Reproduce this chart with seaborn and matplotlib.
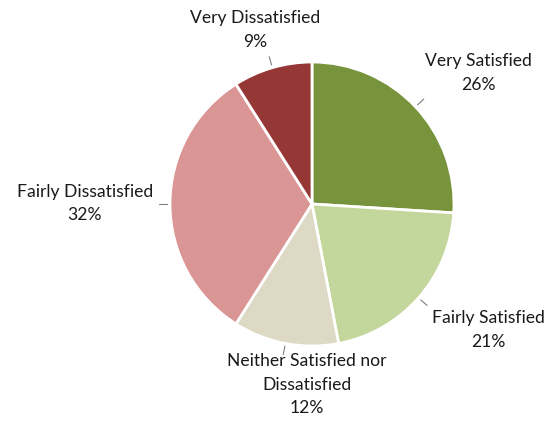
import numpy as np
import matplotlib
matplotlib.use('Agg')
import matplotlib.pyplot as plt
import seaborn as sns

# Survey satisfaction shares (%), clockwise from 12 o'clock
categories = ['Very Satisfied', 'Fairly Satisfied', 'Neither Satisfied nor\nDissatisfied',
              'Fairly Dissatisfied', 'Very Dissatisfied']
shares = [26, 21, 12, 32, 9]
colors = ['#77933C', '#C3D69B', '#DDD9C4', '#D99694', '#953735']

# where each label sits, in pie radii from the centre (hand placed, like Excel)
label_pos = [(1.17, 0.93), (1.24, -0.88), (-0.035, -1.265), (-1.60, 0.01), (-0.40, 1.23)]


def main():
    sns.set_theme(style='white')
    plt.rcParams['font.family'] = ['Lato', 'DejaVu Sans']

    fig = plt.figure(figsize=(5.52, 4.27), dpi=100)
    ax = fig.add_axes([0, 0, 1, 1])

    wedges, _ = ax.pie(shares, colors=colors, startangle=90, counterclock=False,
                       radius=1.0, wedgeprops=dict(edgecolor='white', linewidth=2))

    for w, cat, val, (lx, ly) in zip(wedges, categories, shares, label_pos):
        mid = np.deg2rad((w.theta1 + w.theta2) / 2)
        # short leader line just outside the slice
        ax.plot([1.02 * np.cos(mid), 1.08 * np.cos(mid)],
                [1.02 * np.sin(mid), 1.08 * np.sin(mid)],
                color='#7f7f7f', lw=0.8)
        ax.text(lx, ly, f'{cat}\n{val}%', ha='center', va='center',
                fontsize=12.6, color='#1a1a1a', linespacing=1.6)

    # 142 px per unit, pie centre at (312, 205) px
    ax.set_xlim(-312 / 142, (552 - 312) / 142)
    ax.set_ylim(-(427 - 205) / 142, 205 / 142)
    ax.set_aspect('equal')
    ax.axis('off')

    fig.savefig('out.png', dpi=100, facecolor='white')
    plt.close(fig)


if __name__ == "__main__":
    main()
